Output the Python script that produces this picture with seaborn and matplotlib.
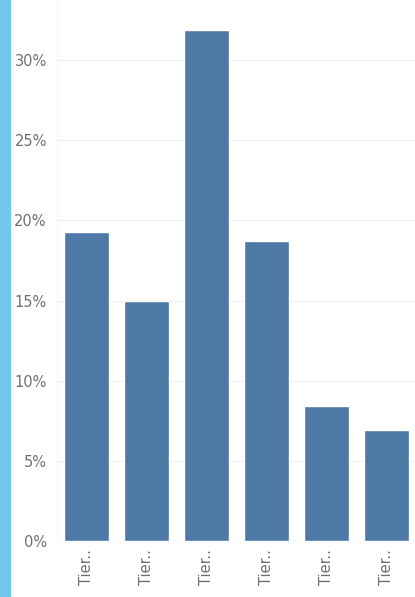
import matplotlib
matplotlib.use("Agg")
import matplotlib.pyplot as plt
import seaborn as sns
import pandas as pd
from matplotlib.patches import Rectangle
from matplotlib.ticker import FuncFormatter

categories = ["Tier 1", "Tier 2", "Tier 3", "Tier 4", "Tier 5", "Tier 6"]
values = [19.3, 15.0, 31.9, 18.7, 8.4, 6.9]
tick_labels = ["Tier.."] * 6

df = pd.DataFrame({"cat": categories, "val": values})

sns.set_theme(style="white")
plt.rcParams['font.family'] = ['DejaVu Sans']

W, H = 415, 597
fig = plt.figure(figsize=(W / 100, H / 100), dpi=100)
ax = fig.add_axes([56.5 / W, (H - 541) / H, 360 / W, 541 / H])

sns.barplot(data=df, x="cat", y="val", color="#4E79A7", saturation=1, width=0.75, ax=ax)

ax.set_xlim(-0.5, 5.5)
ax.set_ylim(0, 541 / 16.03)
ax.set_yticks([0, 5, 10, 15, 20, 25, 30])
ax.yaxis.set_major_formatter(FuncFormatter(lambda v, p: f"{int(v)}%"))
ax.set_xticks(range(len(categories)))
ax.set_xticklabels(tick_labels, rotation=90, ha="center", va="top")
ax.tick_params(axis="both", length=0, colors="#707070", labelsize=10.5)
ax.tick_params(axis="y", pad=7)
ax.tick_params(axis="x", pad=6)
ax.set_xlabel("")
ax.set_ylabel("")
ax.yaxis.grid(True, color="#f0f0f0", linewidth=1)
ax.set_axisbelow(True)
for s in ax.spines.values():
    s.set_visible(False)
ax.axvline(-0.5, color="#f7f7f7", linewidth=1, zorder=0)

fig.patches.append(Rectangle((0, 0), 10 / W, 1, transform=fig.transFigure, color="#72C7EC", zorder=10))

fig.savefig("out.png", dpi=100)
